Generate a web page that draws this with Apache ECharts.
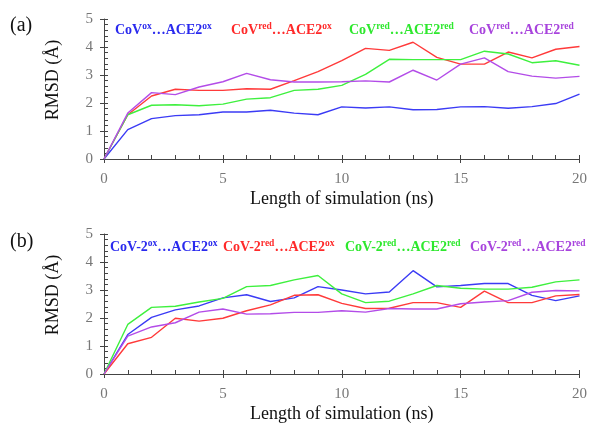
<!DOCTYPE html>
<html><head><meta charset="utf-8">
<script src="https://cdn.jsdelivr.net/npm/echarts@6/dist/echarts.min.js"></script>
<style>html,body{margin:0;padding:0;background:#fff}#c{width:590px;height:424px}</style>
</head><body><div id="c"></div>
<script>
const times = [0,1,2,3,4,5,6,7,8,9,10,11,12,13,14,15,16,17,18,19,20];
// Panel (a)
const aOxOx   = [0,1.05,1.44,1.55,1.58,1.68,1.68,1.74,1.64,1.58,1.86,1.82,1.86,1.76,1.77,1.86,1.87,1.81,1.87,1.98,2.32];
const aRedOx  = [0,1.58,2.25,2.49,2.45,2.45,2.51,2.49,2.80,3.12,3.51,3.95,3.88,4.17,3.63,3.39,3.39,3.82,3.61,3.92,4.02];
const aRedRed = [0,1.58,1.92,1.94,1.90,1.96,2.14,2.19,2.45,2.49,2.63,3.02,3.56,3.55,3.55,3.55,3.85,3.75,3.44,3.51,3.35];
const aRedRed2= [0,1.64,2.37,2.30,2.57,2.76,3.06,2.83,2.75,2.75,2.76,2.79,2.75,3.17,2.82,3.39,3.61,3.12,2.96,2.89,2.95];
// Panel (b)
const bOxOx   = [0,1.41,2.02,2.29,2.43,2.72,2.83,2.59,2.72,3.12,3.00,2.86,2.93,3.69,3.11,3.16,3.23,3.23,2.81,2.62,2.79];
const bRedOx  = [0,1.08,1.31,1.99,1.89,1.99,2.26,2.47,2.81,2.83,2.52,2.34,2.35,2.55,2.55,2.38,2.96,2.55,2.55,2.79,2.84];
const bRedRed = [0,1.77,2.38,2.42,2.57,2.70,3.12,3.16,3.36,3.52,2.86,2.55,2.60,2.86,3.16,3.06,3.03,3.03,3.10,3.29,3.36];
const bRedRed2= [0,1.35,1.68,1.83,2.21,2.32,2.14,2.15,2.20,2.20,2.26,2.21,2.34,2.32,2.32,2.51,2.57,2.62,2.92,2.98,2.97];
const yTicks = [0,1,2,3,4,5];
const xTicks = [0,5,10,15,20];
const panelLabels = ['(a)','(b)'];
const legendA = [['CoV','ox','ACE2','ox'],['CoV','red','ACE2','ox'],['CoV','red','ACE2','red'],['CoV','red','ACE2','red']];
const legendB = [['CoV-2','ox','ACE2','ox'],['CoV-2','red','ACE2','ox'],['CoV-2','red','ACE2','red'],['CoV-2','red','ACE2','red']];
const lineColors = ['#3b3bf5','#ff3a3a','#3ef03e','#b34ce8'];
const textColors = ['#2a2aee','#ff2a2a','#2ee82e','#a844dd'];

const F = 'Liberation Serif, Times New Roman, serif';
const AX = '#444';
const chart = echarts.init(document.getElementById('c'));
const grids = [
  {left:104, right:10, top:19, height:140},
  {left:104, right:10, top:234, height:141}
];
function xAx(i){
  return {type:'value', gridIndex:i, position:'bottom', min:xTicks[0], max:xTicks[xTicks.length-1], interval:5,
    name: 'Length of simulation (ns)', nameLocation:'middle', nameGap:31,
    nameTextStyle:{fontFamily:F, fontSize:18, color:'#111'},
    axisLine:{lineStyle:{color:AX, width:1}},
    axisTick:{show:true, inside:true, length:4, lineStyle:{color:AX}},
    minorTick:{show:true, splitNumber:5, length:4, lineStyle:{color:AX}},
    axisLabel:{fontFamily:F, fontSize:15, color:'#777', margin:13},
    splitLine:{show:false}};
}
function xAxOut(i){
  return {type:'value', gridIndex:i, position:'bottom', min:xTicks[0], max:xTicks[xTicks.length-1], interval:5,
    axisLine:{show:false}, axisLabel:{show:false}, splitLine:{show:false},
    axisTick:{show:true, inside:false, length:4, lineStyle:{color:AX}}};
}
function yAx(i){
  return {type:'value', gridIndex:i, position:'left', min:yTicks[0], max:yTicks[yTicks.length-1], interval:1,
    name:'RMSD (Å)', nameLocation:'middle', nameGap:42,
    nameTextStyle:{fontFamily:F, fontSize:18, color:'#111', padding:[0,0,0,18]},
    axisLine:{show:true, lineStyle:{color:AX, width:1}},
    axisTick:{show:true, inside:true, length:4, lineStyle:{color:AX}},
    minorTick:{show:true, splitNumber:5, length:4, lineStyle:{color:AX}},
    axisLabel:{fontFamily:F, fontSize:15, color:'#777', margin:11},
    splitLine:{show:false}};
}
function yAxOut(i){
  return {type:'value', gridIndex:i, position:'left', min:yTicks[0], max:yTicks[yTicks.length-1], interval:1,
    axisLine:{show:false}, axisLabel:{show:false}, splitLine:{show:false},
    axisTick:{show:true, inside:false, length:4, lineStyle:{color:AX}}};
}
const seriesDefs = [
  [aOxOx,0,0],[aRedOx,0,1],[aRedRed,0,2],[aRedRed2,0,3],
  [bOxOx,1,0],[bRedOx,1,1],[bRedRed,1,2],[bRedRed2,1,3]
];
const series = seriesDefs.map(([vals,g,c])=>({
  type:'line', name:(g?legendB:legendA)[c].join(' '), xAxisIndex:g, yAxisIndex:g,
  data: times.map((t,j)=>[t, vals[j]]), symbol:'none', smooth:false,
  lineStyle:{color:lineColors[c], width:1.4}, itemStyle:{color:lineColors[c]}, z:2+c
}));
function legendText(parts, x, y, color){
  return {type:'text', left:x, top:y, z:10,
    style:{text:'{b|'+parts[0]+'}{s|'+parts[1]+'}{b|…'+parts[2]+'}{s|'+parts[3]+'}',
      fill:color,
      rich:{b:{fontFamily:F, fontSize:14, fontWeight:'bold', fill:color, lineHeight:16},
            s:{fontFamily:F, fontSize:9.5, fontWeight:'bold', fill:color, verticalAlign:'top', lineHeight:10}}}};
}
const legAx = [115,231,349,469];
const legBx = [110,223,345,470];
const graphic = [
  {type:'text', left:10, top:16, style:{text:panelLabels[0], font:'20px '+F, fill:'#111'}},
  {type:'text', left:10, top:232, style:{text:panelLabels[1], font:'20px '+F, fill:'#111'}}
];
legendA.forEach((p,i)=>graphic.push(legendText(p, legAx[i], 22, textColors[i])));
legendB.forEach((p,i)=>graphic.push(legendText(p, legBx[i], 239, textColors[i])));

chart.setOption({
  animation:false,
  backgroundColor:'#fff',
  grid:grids,
  xAxis:[xAx(0),xAx(1),xAxOut(0),xAxOut(1)],
  yAxis:[yAx(0),yAx(1),yAxOut(0),yAxOut(1)],
  series:series,
  graphic:graphic
});
</script></body></html>
